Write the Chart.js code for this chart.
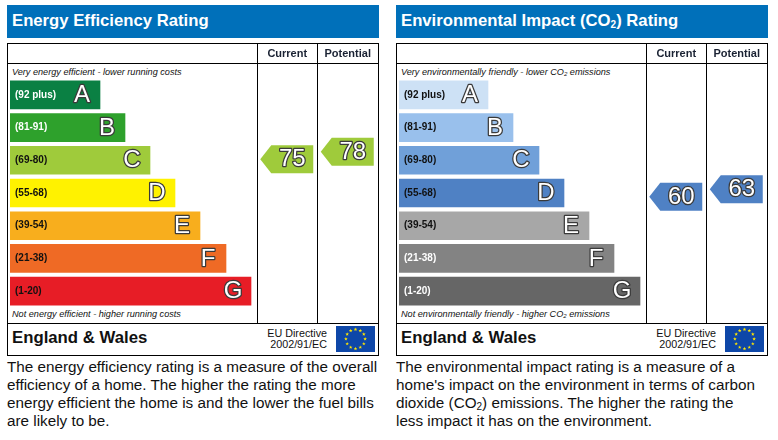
<!DOCTYPE html>
<html>
<head>
<meta charset="utf-8">
<script src="https://cdn.jsdelivr.net/npm/chart.js@4"></script>
<style>
html, body { margin: 0; padding: 0; background: #fff; }
body { width: 778px; height: 440px; overflow: hidden; position: relative; font-family: "Liberation Sans", Arial, sans-serif; color: #111; }
.panel { position: absolute; left: 0; top: 0; width: 389px; height: 440px; }
.panel > * { position: absolute; }
.panel canvas { display: block; }
.head { left: 7px; top: 5px; width: 372px; height: 33px; background: #0070ba; color: #fff; font: bold 16.7px/32px "Liberation Sans", Arial, sans-serif; text-indent: 5px; white-space: nowrap; }
.head sub { font-size: 10px; line-height: 0; vertical-align: -2px; }
.box { left: 7px; top: 43px; width: 370px; height: 311px; border: 1px solid #000; }
.h1 { left: 8px; top: 63px; width: 370px; height: 1px; background: #000; }
.h2 { left: 8px; top: 323px; width: 370px; height: 1px; background: #000; }
.v1 { left: 257px; top: 44px; width: 1px; height: 279px; background: #000; }
.v2 { left: 317px; top: 44px; width: 1px; height: 279px; background: #000; }
.note { left: 12px; font: italic 9.15px/12px "Liberation Sans", Arial, sans-serif; white-space: nowrap; }
.note sub { font-size: 6px; line-height: 0; vertical-align: -1px; }
.nation { left: 12px; top: 328px; font: bold 16.75px/20px "Liberation Sans", Arial, sans-serif; white-space: nowrap; }
.directive { right: 62px; top: 328px; font: 10.75px/11px "Liberation Sans", Arial, sans-serif; text-align: right; white-space: nowrap; }
.flag { left: 336px; top: 326px; width: 39px; height: 26px; }
.blurb { left: 7px; top: 358px; font: 15.25px/18px "Liberation Sans", Arial, sans-serif; white-space: nowrap; }
.blurb sub { font-size: 10px; line-height: 0; vertical-align: -2px; }
</style>
</head>
<body>
<div class="panel" id="energy">
  <div class="head">Energy Efficiency Rating</div>
  <div class="box"></div><div class="h1"></div><div class="h2"></div><div class="v1"></div><div class="v2"></div>
  <div class="note" style="top:66px">Very energy efficient - lower running costs</div>
  <div class="note" style="top:308px">Not energy efficient - higher running costs</div>
  <div class="nation">England &amp; Wales</div>
  <div class="directive">EU Directive<br>2002/91/EC</div>
  <svg class="flag" viewBox="0 0 39 26"></svg>
  <div class="blurb">The energy efficiency rating is a measure of the overall<br>efficiency of a home. The higher the rating the more<br>energy efficient the home is and the lower the fuel bills<br>are likely to be.</div>
</div>
<div class="panel" id="co2" style="left:389px">
  <div class="head">Environmental Impact (CO<sub>2</sub>) Rating</div>
  <div class="box"></div><div class="h1"></div><div class="h2"></div><div class="v1"></div><div class="v2"></div>
  <div class="note" style="top:66px">Very environmentally friendly - lower CO<sub>2</sub> emissions</div>
  <div class="note" style="top:308px">Not environmentally friendly - higher CO<sub>2</sub> emissions</div>
  <div class="nation">England &amp; Wales</div>
  <div class="directive">EU Directive<br>2002/91/EC</div>
  <svg class="flag" viewBox="0 0 39 26"></svg>
  <div class="blurb">The environmental impact rating is a measure of a<br>home's impact on the environment in terms of carbon<br>dioxide (CO<sub>2</sub>) emissions. The higher the rating the<br>less impact it has on the environment.</div>
</div>
<script>
const bandLabels = ['(92 plus)', '(81-91)', '(69-80)', '(55-68)', '(39-54)', '(21-38)', '(1-20)']
const bandLetters = ['A', 'B', 'C', 'D', 'E', 'F', 'G']
const energyLengths = [36, 46, 56, 66, 76, 86.4, 96.4]
const co2Lengths = [35.6, 45.6, 56, 66, 76, 86, 96.4]
const bandMins = [92, 81, 69, 55, 39, 21, 1]

const energyColors = ['#0a8043', '#2ea12c', '#9fcb3b', '#fff200', '#f8ae1d', '#ef6a25', '#e71d26']
const energyLabelColors = ['#fff', '#fff', '#111', '#111', '#111', '#111', '#111']
const co2Colors = ['#cde1f5', '#99c0ec', '#70a0d9', '#4f81c4', '#a7a7a7', '#838383', '#666666']
const co2LabelColors = ['#111', '#111', '#111', '#111', '#111', '#fff', '#fff']

const ratingColumns = ['Current', 'Potential']
const energyRatings = [75, 78]
const co2Ratings = [60, 63]

function outlined(ctx, text, x, y) {
  ctx.save()
  ctx.font = '24px "Liberation Sans", Arial, sans-serif'
  ctx.textAlign = 'center'
  ctx.textBaseline = 'middle'
  ctx.lineJoin = 'round'
  ctx.lineWidth = 2.5
  ctx.strokeStyle = '#3a3a3a'
  ctx.strokeText(text, x, y)
  ctx.fillStyle = '#fff'
  ctx.fillText(text, x, y)
  ctx.restore()
}

const bandLetterPlugin = {
  id: 'bandLetters',
  afterDatasetsDraw(chart) {
    chart.getDatasetMeta(0).data.forEach((bar, i) => {
      outlined(chart.ctx, bandLetters[i], bar.x - 18, bar.y + 0.5)
    })
  }
}

const arrowPlugin = {
  id: 'ratingArrows',
  afterDatasetsDraw(chart) {
    const ctx = chart.ctx
    const ds = chart.data.datasets[0]
    chart.getDatasetMeta(0).data.forEach((pt, i) => {
      const v = ds.data[i].y
      const x = pt.x, y = pt.y
      ctx.beginPath()
      ctx.moveTo(x - 27, y)
      ctx.lineTo(x - 16, y - 14)
      ctx.lineTo(x + 26, y - 14)
      ctx.lineTo(x + 26, y + 14)
      ctx.lineTo(x - 16, y + 14)
      ctx.closePath()
      ctx.fillStyle = ds.bandColors[bandMins.findIndex(m => v >= m)]
      ctx.fill()
      outlined(ctx, String(v), x + 5, y + 0.5)
    })
  }
}

function bandChart(panel, lengths, colors, labelColors) {
  const canvas = document.createElement('canvas')
  canvas.width = 251
  canvas.height = 230
  canvas.style.cssText = 'left:10px;top:78px;position:absolute'
  document.getElementById(panel).appendChild(canvas)
  return new Chart(canvas, {
    type: 'bar',
    plugins: [bandLetterPlugin],
    data: {
      labels: bandLabels,
      datasets: [{ data: lengths, backgroundColor: colors, barThickness: 28 }]
    },
    options: {
      indexAxis: 'y',
      responsive: false,
      animation: false,
      devicePixelRatio: 1,
      layout: { padding: { top: 0.5, bottom: 0.5 } },
      plugins: { legend: { display: false }, tooltip: { enabled: false } },
      scales: {
        x: { type: 'linear', min: 0, max: 100.4, display: false },
        y: {
          type: 'category',
          grid: { display: false },
          border: { display: false },
          afterFit: s => { s.width = 0; s.paddingTop = 0; s.paddingBottom = 0 },
          ticks: {
            mirror: true,
            z: 1,
            padding: 5,
            autoSkip: false,
            font: { family: '"Liberation Sans", Arial, sans-serif', size: 10, weight: 'bold' },
            color: ctx => labelColors[ctx.index]
          }
        }
      }
    }
  })
}

function ratingChart(panel, ratings, colors) {
  const canvas = document.createElement('canvas')
  canvas.width = 121
  canvas.height = 279
  canvas.style.cssText = 'left:257px;top:44px;position:absolute'
  document.getElementById(panel).appendChild(canvas)
  return new Chart(canvas, {
    type: 'scatter',
    plugins: [arrowPlugin],
    data: {
      datasets: [{
        data: ratingColumns.map((c, i) => ({ x: c, y: ratings[i] })),
        bandColors: colors,
        pointRadius: 0
      }]
    },
    options: {
      responsive: false,
      animation: false,
      devicePixelRatio: 1,
      layout: { padding: 0 },
      plugins: { legend: { display: false }, tooltip: { enabled: false } },
      scales: {
        x: {
          type: 'category',
          labels: ratingColumns,
          position: 'top',
          offset: true,
          grid: { display: false, drawTicks: false },
          border: { display: false },
          afterFit: s => { s.height = 20 },
          ticks: {
            maxRotation: 0,
            padding: 3,
            color: '#1a2233',
            font: { family: '"Liberation Sans", Arial, sans-serif', size: 11, weight: 'bold' }
          }
        },
        y: { type: 'linear', min: 9.5, max: 113.1, display: false }
      }
    }
  })
}

function drawFlag(svg) {
  let s = '<rect width="39" height="26" fill="#0e47a8"/>'
  for (let i = 0; i < 12; i++) {
    const a = i * Math.PI / 6
    const cx = 19.5 + 9.6 * Math.sin(a), cy = 13 - 9.6 * Math.cos(a)
    let pts = ''
    for (let k = 0; k < 10; k++) {
      const r = k % 2 ? 0.8 : 1.9, b = k * Math.PI / 5
      pts += (cx + r * Math.sin(b)).toFixed(2) + ',' + (cy - r * Math.cos(b)).toFixed(2) + ' '
    }
    s += '<polygon fill="#ffe600" points="' + pts + '"/>'
  }
  svg.innerHTML = s
}

document.querySelectorAll('.flag').forEach(drawFlag)

bandChart('energy', energyLengths, energyColors, energyLabelColors)
ratingChart('energy', energyRatings, energyColors)
bandChart('co2', co2Lengths, co2Colors, co2LabelColors)
ratingChart('co2', co2Ratings, co2Colors)
</script>
</body>
</html>
